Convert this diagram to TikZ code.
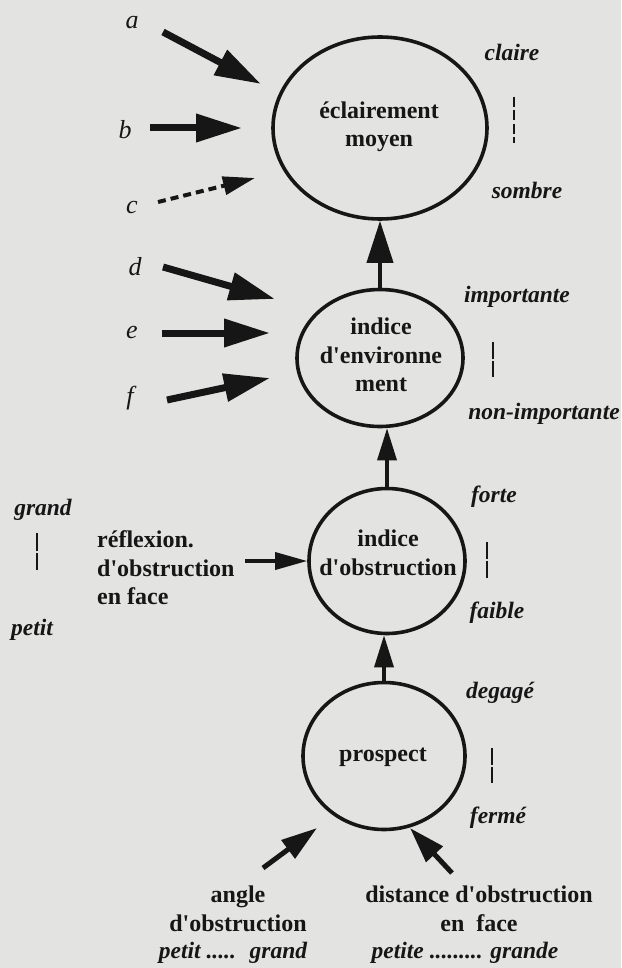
\documentclass[tikz,border=0pt]{standalone}
\usepackage{fontspec}
\setmainfont{Liberation Serif}
\usetikzlibrary{arrows.meta,shapes.geometric}
\definecolor{paper}{RGB}{227,227,226}
\definecolor{ink}{RGB}{22,22,22}
\newcommand{\ap}{\XeTeXglyph\XeTeXcharglyph"27\relax}
\begin{document}
\begin{tikzpicture}[x=1pt,y=-1pt,
  ell/.style={draw=ink, line width=3.6pt, ellipse, inner sep=0pt},
  ntext/.style={font=\fontsize{24}{28.5}\selectfont\bfseries, align=center, text=ink, inner sep=0pt},
  lab/.style={font=\fontsize{23.5}{26}\selectfont\bfseries\itshape, text=ink, inner sep=0pt},
  letter/.style={font=\fontsize{26}{28}\selectfont\itshape, text=ink, inner sep=0pt},
  bigarrow/.style={draw=ink, line width=7pt, -{Triangle[length=46pt,width=27pt]}},
  dasharrow/.style={draw=ink, line width=4pt, dash pattern=on 8pt off 5pt, -{Triangle[length=32pt,width=18pt]}},
  uparrow/.style={draw=ink, line width=4pt, -{Triangle[length=42pt,width=26pt]}},
  smallup/.style={draw=ink, line width=3.5pt, -{Triangle[length=32pt,width=19pt]}},
  midarrow/.style={draw=ink, line width=3.5pt, -{Triangle[length=32pt,width=17pt]}},
  botarrow/.style={draw=ink, line width=5pt, -{Triangle[length=36pt,width=22pt]}},
  scalemark/.style={draw=ink, line width=2.5pt}
]
\path[use as bounding box, fill=paper] (0,0) rectangle (621,968);

% ellipses
\node[ell, minimum width=214pt, minimum height=182pt] (eclair) at (380,128) {};
\node[ntext] (eclairt) at (379,127) {éclairement\\moyen};
\node[ell, minimum width=166pt, minimum height=137pt] (env) at (380,358) {};
\node[ntext] (envt) at (381,355) {indice\\d\ap environne\\ment};
\node[ell, minimum width=156pt, minimum height=145pt] (obs) at (387,561) {};
\node[ntext] (obst) at (388,553) {indice\\d\ap obstruction};
\node[ell, minimum width=162pt, minimum height=147pt] (prosp) at (384,756) {};
\node[ntext] (prospt) at (383,757) {prospect};

% vertical connectors
\draw[uparrow] (env.north) -- (eclair.south);
\draw[smallup] (obs.north) -- (obs.north |- env.south);
\draw[smallup] (prosp.north) -- (prosp.north |- obs.south);

% input letters
\node[letter] (la) at (132,23) {a};
\node[letter] (lb) at (125,130) {b};
\node[letter] (lc) at (132,208) {c};
\node[letter] (ld) at (135,267) {d};
\node[letter] (le) at (132,332) {e};
\node[letter] (lf) at (130,398) {f};

\coordinate (a0) at (163,32);  \coordinate (a1) at (261,84);
\coordinate (b0) at (150,128); \coordinate (b1) at (242,128);
\coordinate (c0) at (158,202); \coordinate (c1) at (255,178);
\coordinate (d0) at (163,267); \coordinate (d1) at (275,299);
\coordinate (e0) at (162,333); \coordinate (e1) at (270,333);
\coordinate (f0) at (167,400); \coordinate (f1) at (270,378);
\draw[bigarrow] (a0) -- (a1);
\draw[bigarrow] (b0) -- (b1);
\draw[dasharrow] (c0) -- (c1);
\draw[bigarrow] (d0) -- (d1);
\draw[bigarrow] (e0) -- (e1);
\draw[bigarrow] (f0) -- (f1);

% right scale labels
\node[lab] (claire) at (512,52) {claire};
\node[lab] (sombre) at (527,190) {sombre};
\draw[scalemark, dash pattern=on 10pt off 3.5pt] (514,97) -- (514,143);
\node[lab] (impo) at (517,297) {importante};
\node[lab] (nonimpo) at (544,414) {non-importante};
\draw[scalemark, dash pattern=on 16.5pt off 2pt] (493,342) -- (493,377);
\node[lab] (forte) at (494,497) {forte};
\node[lab] (faible) at (497,613) {faible};
\draw[scalemark, dash pattern=on 17pt off 2pt] (487,542) -- (487,578);
\node[lab] (degage) at (500,693) {degagé};
\node[lab] (ferme) at (498,818) {fermé};
\draw[scalemark, dash pattern=on 16.5pt off 2pt] (492,748) -- (492,783);

% left block
\node[lab] (grand) at (43,510) {grand};
\node[lab] (petit) at (32,630) {petit};
\draw[scalemark, dash pattern=on 18pt off 2pt] (37,533) -- (37,570);
\node[ntext, anchor=west, align=left] (refl) at (97,568) {réflexion.\\d\ap obstruction\\en face};
\coordinate (r0) at (245,561);
\draw[midarrow] (r0) -- (obs.west);

% bottom inputs
\node[ntext] (angle) at (238,909) {angle\\d\ap obstruction};
\node[lab] (angsc) at (233,953) {petit ..... \ grand};
\node[ntext] (dist) at (479,909) {distance d\ap obstruction\\en\ \ face};
\node[lab] (distsc) at (465,953) {petite ......... grande};
\coordinate (an0) at (263,868); \coordinate (an1) at (317,828);
\coordinate (di0) at (452,873); \coordinate (di1) at (410,828);
\draw[botarrow] (an0) -- (an1);
\draw[botarrow] (di0) -- (di1);
\end{tikzpicture}
\end{document}
